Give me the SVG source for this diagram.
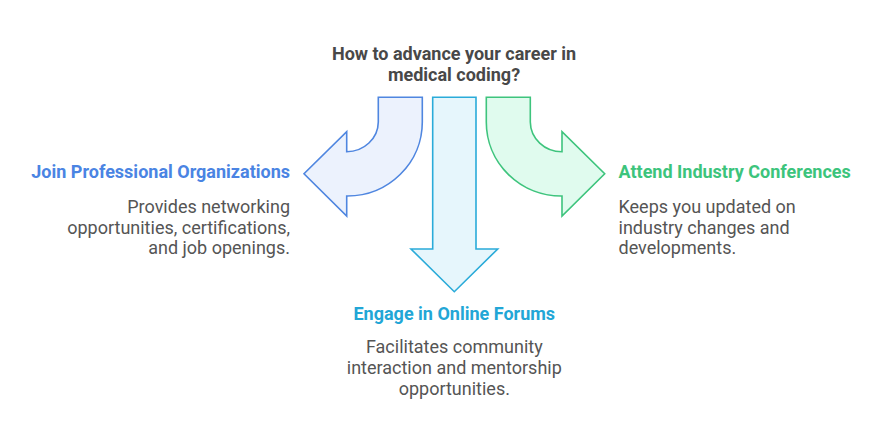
<svg xmlns="http://www.w3.org/2000/svg" width="877" height="445" viewBox="0 0 877 445">
<style>
.t{font-family:Roboto,"Liberation Sans",sans-serif;font-size:18px}
.h{font-weight:bold}
.q{fill:#484848;font-weight:bold;text-anchor:middle}
.d{fill:#555555}
.arrow{stroke-width:1.6;stroke-linejoin:miter}
</style>
<rect width="877" height="445" fill="#ffffff"/>
<g id="title">
<text class="t q" x="454" y="60">How to advance your career in</text>
<text class="t q" x="454" y="81">medical coding?</text>
</g>
<g id="connectors">
<path id="arrow-left" class="arrow" fill="#ecf2fd" stroke="#4f86e0" d="M378.3,97.3 L422.3,97.3 L422.3,122 A75,74 0 0 1 346.7,196 L346.7,216 L304,173.8 L346.7,131.7 L346.7,151.7 A31.6,30 0 0 0 378.3,122 Z"/>
<path id="arrow-down" class="arrow" fill="#e6f6fc" stroke="#2aabd9" d="M432.7,97.3 L476,97.3 L476,249 L497.7,249 L454.3,291.7 L411,249 L432.7,249 Z"/>
<path id="arrow-right" class="arrow" fill="#e0fbee" stroke="#3ec47d" d="M530.3,97.3 L486.3,97.3 L486.3,122 A75,74 0 0 0 562,196 L562,216 L604.7,173.8 L562,131.7 L562,151.7 A31.6,30 0 0 1 530.3,122 Z"/>
</g>
<g id="node-left">
<text class="t h" x="290" y="178.3" fill="#4a84e3" text-anchor="end">Join Professional Organizations</text>
<text class="t d" x="290" y="212.7" text-anchor="end">Provides networking</text>
<text class="t d" x="290" y="233.5" text-anchor="end">opportunities, certifications,</text>
<text class="t d" x="290" y="254.3" text-anchor="end">and job openings.</text>
</g>
<g id="node-bottom">
<text class="t h" x="454.3" y="320" fill="#22a6d6" text-anchor="middle">Engage in Online Forums</text>
<text class="t d" x="454.3" y="353" text-anchor="middle">Facilitates community</text>
<text class="t d" x="454.3" y="374" text-anchor="middle">interaction and mentorship</text>
<text class="t d" x="454.3" y="395" text-anchor="middle">opportunities.</text>
</g>
<g id="node-right">
<text class="t h" x="618.5" y="178.3" fill="#3cc47c">Attend Industry Conferences</text>
<text class="t d" x="618.5" y="212.7">Keeps you updated on</text>
<text class="t d" x="618.5" y="233.5">industry changes and</text>
<text class="t d" x="618.5" y="254.3">developments.</text>
</g>
</svg>
